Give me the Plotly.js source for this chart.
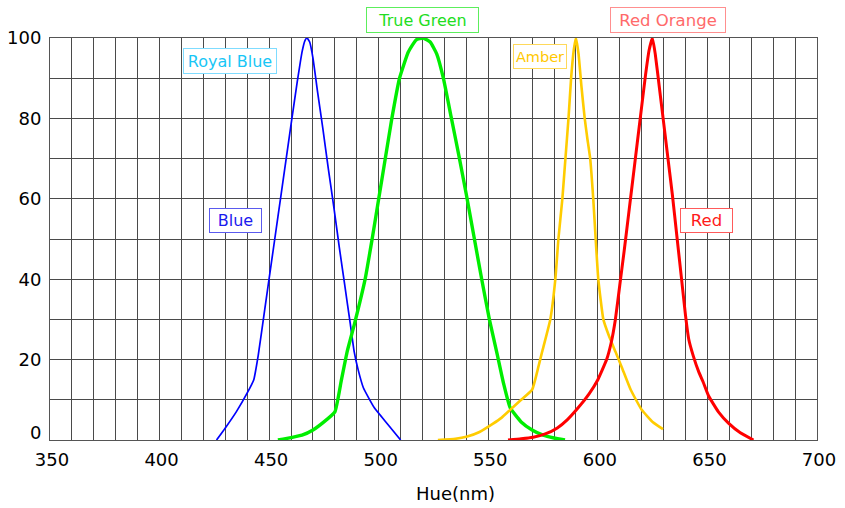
<!DOCTYPE html>
<html>
<head>
<meta charset="utf-8">
<script src="https://cdn.plot.ly/plotly-3.0.1.min.js"></script>
<style>html,body{margin:0;padding:0;background:#fff;}#chart{width:845px;height:508px;}</style>
</head>
<body>
<div id="chart"></div>
<script>
// ---- Data (wavelength in nm, relative intensity in %) ----
const blueX = [426, 430, 435, 440, 443, 445, 448, 451, 454, 457, 460, 462.8, 465, 466.3, 467.3, 468.5, 470, 472, 474.5, 477, 479.5, 482, 484.5, 487, 488.8, 490.6, 493, 498, 504, 510];
const blueY = [0, 3, 7, 11.7, 15, 21, 32.5, 44, 55.5, 67, 78.5, 89, 96.5, 99.3, 100, 99, 95, 87, 77.5, 67.5, 58, 48, 38.5, 29, 22, 17.5, 13, 8, 4, 0];

const greenX = [454, 460, 465, 470, 475, 480, 483, 485.6, 489, 493.8, 497, 500, 503, 506, 509.5, 513.5, 517, 520.3, 523.5, 526.5, 529.5, 533, 536.5, 540, 543.5, 547, 550.5, 554, 557, 560, 565, 570, 575, 580, 585];
const greenY = [0, 0.6, 1.2, 2.5, 4.5, 7, 15, 22, 29, 40, 50, 60, 70, 80, 90, 96.5, 99.5, 100, 99, 96, 90, 80.5, 71, 61, 50.5, 40, 30, 21.5, 14, 8, 4.5, 2.5, 1.2, 0.5, 0];

const amberX = [527, 535, 540, 546, 552, 556, 560, 565, 570, 573, 574.6, 578.3, 580.6, 582, 583.8, 585.2, 586.6, 587.8, 589, 590, 591.2, 592.5, 594, 595.2, 596.5, 597.9, 599, 600.2, 602.5, 605, 608, 611, 615, 620, 625, 629.7];
const amberY = [0, 0.3, 0.8, 2, 4, 5.5, 7.5, 10, 12.5, 18.5, 22, 30, 40, 50, 60, 70, 80, 90, 97, 100, 96, 88, 80, 75, 70, 60, 50, 40, 30, 26, 22, 18, 12.5, 7.5, 4.5, 2.7];

const redX = [559, 565, 570.5, 576, 581.5, 586, 591, 596, 600, 604, 606, 608, 610, 612, 614, 616, 618, 620, 621.8, 623.4, 624.9, 626.2, 628, 630, 632, 634, 636, 638, 640, 641.5, 643.5, 646, 648, 650.5, 655, 659.6, 665, 671];
const redY = [0, 0.3, 0.7, 1.5, 3, 5, 8, 11.5, 15, 20, 24, 30, 38.5, 47, 56, 65, 74, 83, 91, 97, 100, 96, 88, 79, 70, 61, 51, 41, 31, 25, 21, 17, 14.5, 11, 7, 4.2, 1.8, 0];

const xTickVals = [350, 400, 450, 500, 550, 600, 650, 700];
const yTickVals = [20, 40, 60, 80, 100];

const seriesNames = ['Blue', 'True Green', 'Amber', 'Red'];

// ---- Label boxes ----
const labelText = ['Royal Blue', 'True Green', 'Amber', 'Red Orange', 'Blue', 'Red'];
const labelX = [432.2, 520.1, 573.5, 632.2, 434.5, 649.5];
const labelY = [94.4, 104.6, 95.3, 104.4, 54.7, 54.5];

const FONT = 'DejaVu Sans, Verdana, sans-serif';

function line(x, y, name, color, width) {
  return {x: x, y: y, name: name, type: 'scatter', mode: 'lines',
          line: {color: color, width: width, shape: 'spline', smoothing: 0.4},
          hoverinfo: 'x+y+name'};
}

const traces = [
  line(blueX, blueY, seriesNames[0], '#0000ff', 1.7),
  line(greenX, greenY, seriesNames[1], '#00ee00', 3.4),
  line(amberX, amberY, seriesNames[2], '#ffcc00', 2.6),
  line(redX, redY, seriesNames[3], '#ff0000', 3)
];

const boxStyle = [
  {c: '#18c6f6', b: '#7fdcff', w: 90, h: 22, s: 16},
  {c: '#22dd22', b: '#5cee5c', w: 109, h: 22, s: 16},
  {c: '#ffc800', b: '#ffd95a', w: 50, h: 21, s: 14.5},
  {c: '#ff6a6a', b: '#ff8f8f', w: 112, h: 22, s: 16.5},
  {c: '#1a1aee', b: '#5a5aee', w: 49, h: 21, s: 16},
  {c: '#ff1a1a', b: '#ff5a5a', w: 49, h: 21, s: 16.5}
];

const annotations = labelText.map((t, i) => {
  const above = labelY[i] > 100;
  return {
    text: t, x: labelX[i], xref: 'x',
    y: above ? labelY[i] / 100 : labelY[i], yref: above ? 'paper' : 'y',
    showarrow: false, xanchor: 'center', yanchor: 'middle',
    font: {family: FONT, size: boxStyle[i].s, color: boxStyle[i].c},
    bordercolor: boxStyle[i].b, borderwidth: 1, borderpad: 1,
    bgcolor: '#ffffff', width: boxStyle[i].w, height: boxStyle[i].h
  };
});

// y "0" label (raised slightly above the bottom line as in the reference)
annotations.push({
  text: '0', xref: 'paper', yref: 'y', x: 0, y: 1.8, xanchor: 'right', yanchor: 'middle',
  xshift: -7, showarrow: false, font: {family: FONT, size: 18, color: '#000'}
});
// x axis title
annotations.push({
  text: 'Hue(nm)', xref: 'x', yref: 'paper', x: 535, y: -0.132, xanchor: 'center', yanchor: 'middle',
  showarrow: false, font: {family: FONT, size: 18, color: '#000'}
});

const GRID = '#4a4a4a';

const layout = {
  width: 845, height: 508,
  margin: {l: 50, r: 28, t: 38, b: 68, pad: 0},
  paper_bgcolor: '#ffffff', plot_bgcolor: '#ffffff',
  showlegend: false,
  font: {family: FONT, size: 18, color: '#000'},
  xaxis: {
    range: [350, 700], tickvals: xTickVals, ticktext: xTickVals.map(String),
    showgrid: true, gridcolor: GRID, gridwidth: 1,
    minor: {dtick: 10, tick0: 350, showgrid: true, gridcolor: GRID, gridwidth: 1},
    zeroline: false, showline: true, mirror: true, linecolor: '#555', linewidth: 1,
    ticks: 'outside', ticklen: 3, tickcolor: 'rgba(0,0,0,0)', ticklabelshift: 2,
    tickfont: {family: FONT, size: 18, color: '#000'}, fixedrange: true
  },
  yaxis: {
    range: [0, 100], tickvals: yTickVals, ticktext: yTickVals.map(String),
    showgrid: true, gridcolor: GRID, gridwidth: 1,
    minor: {dtick: 10, tick0: 0, showgrid: true, gridcolor: GRID, gridwidth: 1},
    zeroline: false, showline: true, mirror: true, linecolor: '#555', linewidth: 1,
    ticks: 'outside', ticklen: 4, tickcolor: 'rgba(0,0,0,0)',
    tickfont: {family: FONT, size: 18, color: '#000'}, fixedrange: true
  },
  annotations: annotations
};

Plotly.newPlot('chart', traces, layout, {displayModeBar: false, staticPlot: true});
</script>
</body>
</html>
